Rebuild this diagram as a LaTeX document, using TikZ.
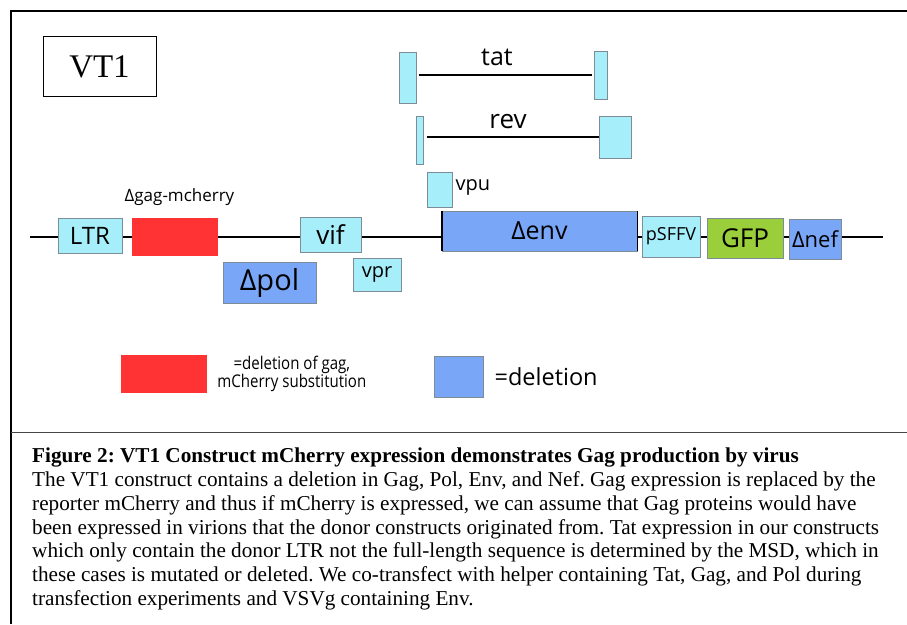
\documentclass[tikz,border=0pt]{standalone}
\usepackage{fontspec}
\setmainfont{Liberation Serif}
\newfontfamily\labelfont{Open Sans}
\newfontfamily\condfont[FakeStretch=0.86]{Open Sans}
\usetikzlibrary{positioning}

\definecolor{genecyan}{RGB}{166,238,250}
\definecolor{boxedge}{RGB}{125,140,150}
\definecolor{delred}{RGB}{255,51,51}
\definecolor{delblue}{RGB}{122,166,247}
\definecolor{gfpgreen}{RGB}{154,206,58}
\definecolor{rulegray}{RGB}{70,70,70}

\newcommand{\lsize}[1]{\labelfont\fontsize{#1}{#1}\selectfont}
\newcommand{\csize}[1]{\condfont\fontsize{#1}{#1}\selectfont}

\begin{document}
\begin{tikzpicture}[x=1pt, y=-1pt,
    gene/.style={draw=boxedge, fill=genecyan, line width=0.8pt, inner sep=0pt},
    delbox/.style={gene, fill=delblue},
    gagbox/.style={fill=delred, inner sep=0pt},
    gfpbox/.style={gene, fill=gfpgreen},
    backbone/.style={line width=1.4pt, black}]
        \useasboundingbox (0, 0) rectangle (907, 624);
        % frame
        \draw[line width=1.8pt] (907, 11) -- (11, 11) -- (11, 624);
        \draw[line width=1.5pt, rulegray] (11, 432.5) -- (907, 432.5);
        \node[draw, line width=1pt, minimum width=113, minimum height=60, font=\fontsize{33}{33}\selectfont] (title) at (99.5, 66.5) {VT1};
        % backbone
        \coordinate (left) at (30, 237);
        \coordinate (right) at (883, 237);
        \draw[backbone] (left) -- (right);
        \node[gene, minimum width=64, minimum height=35, font=\lsize{24}] (ltr) at (90, 235.5) {LTR};
        \node[gagbox, minimum width=86, minimum height=38] (gag) at (175, 237) {};
        \node[font=\lsize{17}] (gaglabel) at (179.5, 197) {Δgag-mcherry};
        \node[delbox, minimum width=93, minimum height=41, font=\lsize{29}] (pol) at (269.5, 282.5) {Δpol};
        \node[gene, minimum width=61, minimum height=35, font=\lsize{26}] (vif) at (330.5, 234.5) {vif};
        \node[gene, minimum width=48, minimum height=33, font=\lsize{20}] (vpr) at (377, 274.5) {vpr};
        % tat and rev
        \node[gene, minimum width=17, minimum height=51] (tatL) at (407.5, 77.5) {};
        \node[gene, minimum width=13, minimum height=48] (tatR) at (600.5, 75) {};
        \draw[backbone, shorten <=3pt, shorten >=2pt] (tatL.east |- tatR.west) -- (tatR.west);
        \node[font=\lsize{25}] (tat) at (497, 57) {tat};
        \node[gene, minimum width=7, minimum height=48] (revL) at (419.5, 140) {};
        \node[gene, minimum width=32, minimum height=42] (revR) at (615, 137) {};
        \draw[backbone, shorten <=4pt] (revL.east |- revR.west) -- (revR.west);
        \node[font=\lsize{26}] (rev) at (508, 122) {rev};
        \node[gene, minimum width=25, minimum height=35] (vpu) at (439.5, 189.5) {};
        \node[font=\lsize{20}, inner sep=0pt, right=3pt of vpu, yshift=2pt] (vpulabel) {vpu};
        % env and 3' end
        \node[delbox, minimum width=195, minimum height=40, font=\lsize{25}] (env) at (539.5, 231) {Δenv};
        \draw[line width=1.8pt] (env.north west) -- (env.south west);
        \draw[line width=1.8pt] (env.north east) -- (env.south east);
        \node[gene, minimum width=58, minimum height=41, font=\lsize{18}] (sffv) at (671, 236.5) {pSFFV};
        \node[gfpbox, minimum width=76, minimum height=40, font=\lsize{26}] (gfp) at (745, 238) {GFP};
        \node[delbox, minimum width=52, minimum height=40, font=\lsize{22}] (nef) at (815, 239) {Δnef};
        % legend
        \node[gagbox, minimum width=86, minimum height=38] (leggag) at (164, 374) {};
        \node[font=\csize{17.5}, align=center, inner sep=0pt, right=10pt of leggag] (leggagtext) {=deletion of gag,\\[0.5pt]mCherry substitution};
        \node[delbox, minimum width=49, minimum height=41] (legdel) at (458.5, 376.5) {};
        \node[font=\lsize{23.5}, inner sep=0pt, right=11pt of legdel] (legdeltext) {=deletion};
        % caption
        \node[anchor=north west, inner sep=0pt, align=left, font=\fontsize{21.2}{23.7}\selectfont\frenchspacing] (caption) at (32, 448) {\textbf{Figure 2: VT1 Construct mCherry expression demonstrates Gag production by virus}\\
The VT1 construct contains a deletion in Gag, Pol, Env, and Nef. Gag expression is replaced by the\\
reporter mCherry and thus if mCherry is expressed, we can assume that Gag proteins would have\\
been expressed in virions that the donor constructs originated from. Tat expression in our constructs\\
which only contain the donor LTR not the full-length sequence is determined by the MSD, which in\\
these cases is mutated or deleted. We co-transfect with helper containing Tat, Gag, and Pol during\\
transfection experiments and VSVg containing Env.};
    \end{tikzpicture}
\end{document}
